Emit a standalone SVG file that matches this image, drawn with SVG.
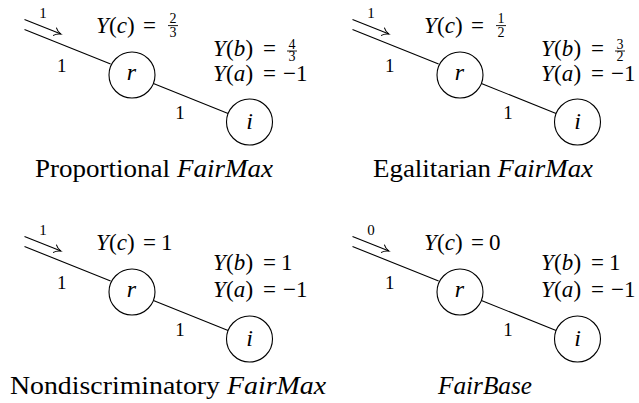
<svg xmlns="http://www.w3.org/2000/svg" width="639" height="403" viewBox="0 0 639 403">
<defs>
<marker id="to" markerUnits="userSpaceOnUse" markerWidth="12" markerHeight="12" refX="0" refY="0" viewBox="-8 -6 10 12" orient="auto" overflow="visible">
<path d="M -6.5,-4 C -5,-1.8 -1.5,-0.4 0,0 C -1.5,0.4 -5,1.8 -6.5,4" fill="none" stroke="#000" stroke-width="1" stroke-linecap="round"/>
</marker>
<g id="edges" stroke="#000" stroke-width="1.1" fill="none">
<line x1="24.5" y1="19.5" x2="61" y2="34.1" marker-end="url(#to)"/>
<line x1="24.5" y1="29.5" x2="110.6" y2="64"/>
<line x1="153.4" y1="83.5" x2="228.1" y2="113.5"/>
</g>
</defs>
<rect width="639" height="403" fill="#fff"/>
<g id="panel1">
<g id="p1-connectors">
<use href="#edges"/>
<text x="43" y="17.7" font-size="15" font-family="Liberation Serif" text-anchor="middle">1</text>
<text x="61.7" y="71.7" font-size="19" font-family="Liberation Serif" text-anchor="middle">1</text>
<text x="180" y="119.3" font-size="19" font-family="Liberation Serif" text-anchor="middle">1</text>
</g>
<g id="p1-r"><circle cx="132" cy="75" r="23" fill="#fff" stroke="#000" stroke-width="1.1"/><text x="131.5" y="79.5" font-size="24" font-family="Liberation Serif" font-style="italic" text-anchor="middle">r</text></g>
<g id="p1-i"><circle cx="249.5" cy="122" r="23" fill="#fff" stroke="#000" stroke-width="1.1"/><text x="249.5" y="128.5" font-size="24" font-family="Liberation Serif" font-style="italic" text-anchor="middle">i</text></g>
<g id="p1-yc">
<text x="96" y="33.3" font-size="23" font-family="Liberation Serif" font-style="italic">Y</text>
<text x="109" y="33.3" font-size="23" font-family="Liberation Serif">(</text>
<text x="116.7" y="33.3" font-size="23" font-family="Liberation Serif" font-style="italic">c</text>
<text x="127" y="33.3" font-size="23" font-family="Liberation Serif">)</text>
<text x="143" y="33.3" font-size="23" font-family="Liberation Serif">=</text>
<text x="173" y="23.3" font-size="14" font-family="Liberation Serif" text-anchor="middle">2</text>
<line x1="168" y1="25.6" x2="178" y2="25.6" stroke="#000" stroke-width="0.9"/>
<text x="173" y="36.7" font-size="14" font-family="Liberation Serif" text-anchor="middle">3</text>
</g>
<g id="p1-yb">
<text x="213" y="56" font-size="23" font-family="Liberation Serif" font-style="italic">Y</text>
<text x="226" y="56" font-size="23" font-family="Liberation Serif">(</text>
<text x="233.7" y="56" font-size="23" font-family="Liberation Serif" font-style="italic">b</text>
<text x="245.4" y="56" font-size="23" font-family="Liberation Serif">)</text>
<text x="263" y="56" font-size="23" font-family="Liberation Serif">=</text>
<text x="292" y="48.8" font-size="14" font-family="Liberation Serif" text-anchor="middle">4</text>
<line x1="287" y1="51" x2="297" y2="51" stroke="#000" stroke-width="0.9"/>
<text x="292" y="61" font-size="14" font-family="Liberation Serif" text-anchor="middle">3</text>
</g>
<g id="p1-ya">
<text x="213" y="80.5" font-size="23" font-family="Liberation Serif" font-style="italic">Y</text>
<text x="226" y="80.5" font-size="23" font-family="Liberation Serif">(</text>
<text x="233.7" y="80.5" font-size="23" font-family="Liberation Serif" font-style="italic">a</text>
<text x="245.4" y="80.5" font-size="23" font-family="Liberation Serif">)</text>
<text x="263" y="80.5" font-size="23" font-family="Liberation Serif">=</text>
<text x="283" y="80.5" font-size="23" font-family="Liberation Serif">&#8722;1</text>
</g>
<g id="p1-caption">
<text x="35" y="176.7" font-size="25" font-family="Liberation Serif" textLength="135" lengthAdjust="spacingAndGlyphs">Proportional</text>
<text x="177" y="176.7" font-size="25" font-family="Liberation Serif" font-style="italic" textLength="96" lengthAdjust="spacingAndGlyphs">FairMax</text>
</g>
</g>
<g id="panel2" transform="translate(328,0)">
<g id="p2-connectors">
<use href="#edges"/>
<text x="43" y="17.7" font-size="15" font-family="Liberation Serif" text-anchor="middle">1</text>
<text x="61.7" y="71.7" font-size="19" font-family="Liberation Serif" text-anchor="middle">1</text>
<text x="180" y="119.3" font-size="19" font-family="Liberation Serif" text-anchor="middle">1</text>
</g>
<g id="p2-r"><circle cx="132" cy="75" r="23" fill="#fff" stroke="#000" stroke-width="1.1"/><text x="131.5" y="79.5" font-size="24" font-family="Liberation Serif" font-style="italic" text-anchor="middle">r</text></g>
<g id="p2-i"><circle cx="249.5" cy="122" r="23" fill="#fff" stroke="#000" stroke-width="1.1"/><text x="249.5" y="128.5" font-size="24" font-family="Liberation Serif" font-style="italic" text-anchor="middle">i</text></g>
<g id="p2-yc">
<text x="96" y="33.3" font-size="23" font-family="Liberation Serif" font-style="italic">Y</text>
<text x="109" y="33.3" font-size="23" font-family="Liberation Serif">(</text>
<text x="116.7" y="33.3" font-size="23" font-family="Liberation Serif" font-style="italic">c</text>
<text x="127" y="33.3" font-size="23" font-family="Liberation Serif">)</text>
<text x="143" y="33.3" font-size="23" font-family="Liberation Serif">=</text>
<text x="173" y="23.3" font-size="14" font-family="Liberation Serif" text-anchor="middle">1</text>
<line x1="168" y1="25.6" x2="178" y2="25.6" stroke="#000" stroke-width="0.9"/>
<text x="173" y="36.7" font-size="14" font-family="Liberation Serif" text-anchor="middle">2</text>
</g>
<g id="p2-yb">
<text x="213" y="56" font-size="23" font-family="Liberation Serif" font-style="italic">Y</text>
<text x="226" y="56" font-size="23" font-family="Liberation Serif">(</text>
<text x="233.7" y="56" font-size="23" font-family="Liberation Serif" font-style="italic">b</text>
<text x="245.4" y="56" font-size="23" font-family="Liberation Serif">)</text>
<text x="263" y="56" font-size="23" font-family="Liberation Serif">=</text>
<text x="292" y="48.8" font-size="14" font-family="Liberation Serif" text-anchor="middle">3</text>
<line x1="287" y1="51" x2="297" y2="51" stroke="#000" stroke-width="0.9"/>
<text x="292" y="61" font-size="14" font-family="Liberation Serif" text-anchor="middle">2</text>
</g>
<g id="p2-ya">
<text x="213" y="80.5" font-size="23" font-family="Liberation Serif" font-style="italic">Y</text>
<text x="226" y="80.5" font-size="23" font-family="Liberation Serif">(</text>
<text x="233.7" y="80.5" font-size="23" font-family="Liberation Serif" font-style="italic">a</text>
<text x="245.4" y="80.5" font-size="23" font-family="Liberation Serif">)</text>
<text x="263" y="80.5" font-size="23" font-family="Liberation Serif">=</text>
<text x="283" y="80.5" font-size="23" font-family="Liberation Serif">&#8722;1</text>
</g>
<g id="p2-caption">
<text x="45" y="176.7" font-size="25" font-family="Liberation Serif" textLength="118" lengthAdjust="spacingAndGlyphs">Egalitarian</text>
<text x="169.5" y="176.7" font-size="25" font-family="Liberation Serif" font-style="italic" textLength="95.5" lengthAdjust="spacingAndGlyphs">FairMax</text>
</g>
</g>
<g id="panel3" transform="translate(0,217)">
<g id="p3-connectors">
<use href="#edges"/>
<text x="43" y="17.7" font-size="15" font-family="Liberation Serif" text-anchor="middle">1</text>
<text x="61.7" y="71.7" font-size="19" font-family="Liberation Serif" text-anchor="middle">1</text>
<text x="180" y="119.3" font-size="19" font-family="Liberation Serif" text-anchor="middle">1</text>
</g>
<g id="p3-r"><circle cx="132" cy="75" r="23" fill="#fff" stroke="#000" stroke-width="1.1"/><text x="131.5" y="79.5" font-size="24" font-family="Liberation Serif" font-style="italic" text-anchor="middle">r</text></g>
<g id="p3-i"><circle cx="249.5" cy="122" r="23" fill="#fff" stroke="#000" stroke-width="1.1"/><text x="249.5" y="128.5" font-size="24" font-family="Liberation Serif" font-style="italic" text-anchor="middle">i</text></g>
<g id="p3-yc">
<text x="96" y="33.3" font-size="23" font-family="Liberation Serif" font-style="italic">Y</text>
<text x="109" y="33.3" font-size="23" font-family="Liberation Serif">(</text>
<text x="116.7" y="33.3" font-size="23" font-family="Liberation Serif" font-style="italic">c</text>
<text x="127" y="33.3" font-size="23" font-family="Liberation Serif">)</text>
<text x="143" y="33.3" font-size="23" font-family="Liberation Serif">=</text>
<text x="161" y="33.3" font-size="23" font-family="Liberation Serif">1</text>
</g>
<g id="p3-yb">
<text x="213" y="53" font-size="23" font-family="Liberation Serif" font-style="italic">Y</text>
<text x="226" y="53" font-size="23" font-family="Liberation Serif">(</text>
<text x="233.7" y="53" font-size="23" font-family="Liberation Serif" font-style="italic">b</text>
<text x="245.4" y="53" font-size="23" font-family="Liberation Serif">)</text>
<text x="263" y="53" font-size="23" font-family="Liberation Serif">=</text>
<text x="281" y="53" font-size="23" font-family="Liberation Serif">1</text>
</g>
<g id="p3-ya">
<text x="213" y="80" font-size="23" font-family="Liberation Serif" font-style="italic">Y</text>
<text x="226" y="80" font-size="23" font-family="Liberation Serif">(</text>
<text x="233.7" y="80" font-size="23" font-family="Liberation Serif" font-style="italic">a</text>
<text x="245.4" y="80" font-size="23" font-family="Liberation Serif">)</text>
<text x="263" y="80" font-size="23" font-family="Liberation Serif">=</text>
<text x="283" y="80" font-size="23" font-family="Liberation Serif">&#8722;1</text>
</g>
<g id="p3-caption">
<text x="10" y="176.5" font-size="25" font-family="Liberation Serif" textLength="210" lengthAdjust="spacingAndGlyphs">Nondiscriminatory</text>
<text x="227" y="176.5" font-size="25" font-family="Liberation Serif" font-style="italic" textLength="99" lengthAdjust="spacingAndGlyphs">FairMax</text>
</g>
</g>
<g id="panel4" transform="translate(328,217)">
<g id="p4-connectors">
<use href="#edges"/>
<text x="43" y="17.7" font-size="15" font-family="Liberation Serif" text-anchor="middle">0</text>
<text x="61.7" y="71.7" font-size="19" font-family="Liberation Serif" text-anchor="middle">1</text>
<text x="180" y="119.3" font-size="19" font-family="Liberation Serif" text-anchor="middle">1</text>
</g>
<g id="p4-r"><circle cx="132" cy="75" r="23" fill="#fff" stroke="#000" stroke-width="1.1"/><text x="131.5" y="79.5" font-size="24" font-family="Liberation Serif" font-style="italic" text-anchor="middle">r</text></g>
<g id="p4-i"><circle cx="249.5" cy="122" r="23" fill="#fff" stroke="#000" stroke-width="1.1"/><text x="249.5" y="128.5" font-size="24" font-family="Liberation Serif" font-style="italic" text-anchor="middle">i</text></g>
<g id="p4-yc">
<text x="96" y="33.3" font-size="23" font-family="Liberation Serif" font-style="italic">Y</text>
<text x="109" y="33.3" font-size="23" font-family="Liberation Serif">(</text>
<text x="116.7" y="33.3" font-size="23" font-family="Liberation Serif" font-style="italic">c</text>
<text x="127" y="33.3" font-size="23" font-family="Liberation Serif">)</text>
<text x="143" y="33.3" font-size="23" font-family="Liberation Serif">=</text>
<text x="161" y="33.3" font-size="23" font-family="Liberation Serif">0</text>
</g>
<g id="p4-yb">
<text x="213" y="53" font-size="23" font-family="Liberation Serif" font-style="italic">Y</text>
<text x="226" y="53" font-size="23" font-family="Liberation Serif">(</text>
<text x="233.7" y="53" font-size="23" font-family="Liberation Serif" font-style="italic">b</text>
<text x="245.4" y="53" font-size="23" font-family="Liberation Serif">)</text>
<text x="263" y="53" font-size="23" font-family="Liberation Serif">=</text>
<text x="281" y="53" font-size="23" font-family="Liberation Serif">1</text>
</g>
<g id="p4-ya">
<text x="213" y="80" font-size="23" font-family="Liberation Serif" font-style="italic">Y</text>
<text x="226" y="80" font-size="23" font-family="Liberation Serif">(</text>
<text x="233.7" y="80" font-size="23" font-family="Liberation Serif" font-style="italic">a</text>
<text x="245.4" y="80" font-size="23" font-family="Liberation Serif">)</text>
<text x="263" y="80" font-size="23" font-family="Liberation Serif">=</text>
<text x="283" y="80" font-size="23" font-family="Liberation Serif">&#8722;1</text>
</g>
<g id="p4-caption">
<text x="110" y="176.5" font-size="25" font-family="Liberation Serif" font-style="italic" textLength="94" lengthAdjust="spacingAndGlyphs">FairBase</text>
</g>
</g>
</svg>
